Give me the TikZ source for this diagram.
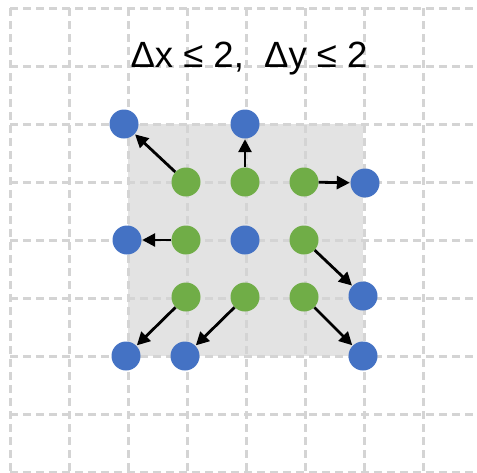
\documentclass[tikz,border=0pt]{standalone}
\usepackage{fontspec}
\setmainfont{Liberation Sans}
\usetikzlibrary{arrows.meta}
\definecolor{dotblue}{HTML}{4472C4}
\definecolor{dotgreen}{HTML}{70AD47}
\definecolor{boxgray}{HTML}{E3E3E3}
\definecolor{gridgray}{HTML}{D4D4D4}
\tikzset{
  gridline/.style={draw=gridgray, line width=3pt, dash pattern=on 8pt off 5pt},
  bdot/.style={circle, fill=dotblue, minimum size=29pt, inner sep=0pt},
  gdot/.style={circle, fill=dotgreen, minimum size=29pt, inner sep=0pt},
  move/.style={draw=black, line width=2.8pt, -{Triangle[length=13pt,width=13pt]}, shorten >=0.5pt},
}
\begin{document}
\begin{tikzpicture}[x=1pt,y=-1pt]
\useasboundingbox (0,0) rectangle (477,472);
\fill[white] (0,0) rectangle (477,472);
\fill[boxgray] (128,124) rectangle (363,356);
\begin{scope}
\clip (0,0) rectangle (477,472);
\foreach \i in {0,...,8} {
  \draw[gridline] (10,8+58*\i) -- (480,8+58*\i);
}
\foreach \i in {0,...,7} {
  \draw[gridline] (10+59*\i,8) -- (10+59*\i,475);
}
\end{scope}
\node[anchor=base, font=\fontsize{36.5}{42}\selectfont] (title) at (249,67) {Δx ≤ 2,\ \ Δy ≤ 2};
\node[bdot] (b1) at (124,124) {};
\node[bdot] (b2) at (245,124) {};
\node[bdot] (b3) at (365,183) {};
\node[bdot] (b4) at (127,240) {};
\node[bdot] (b5) at (245,240) {};
\node[bdot] (b6) at (363,296) {};
\node[bdot] (b7) at (126,356) {};
\node[bdot] (b8) at (185,356) {};
\node[bdot] (b9) at (363,356) {};
\node[gdot] (g1) at (186,182) {};
\node[gdot] (g2) at (245,182) {};
\node[gdot] (g3) at (304,182) {};
\node[gdot] (g4) at (186,240) {};
\node[gdot] (g5) at (304,240) {};
\node[gdot] (g6) at (186,297) {};
\node[gdot] (g7) at (245,297) {};
\node[gdot] (g8) at (304,297) {};
\draw[move] (g1) -- (b1);
\draw[move] (g2) -- (b2);
\draw[move] (g3) -- (b3);
\draw[move] (g4) -- (b4);
\draw[move] (g5) -- (b6);
\draw[move] (g6) -- (b7);
\draw[move] (g7) -- (b8);
\draw[move] (g8) -- (b9);
\end{tikzpicture}
\end{document}
